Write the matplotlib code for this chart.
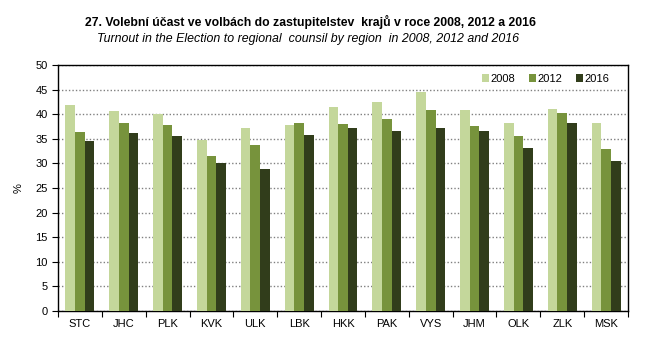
import numpy as np
import matplotlib
matplotlib.use("Agg")
import matplotlib.pyplot as plt
from matplotlib.ticker import MultipleLocator, FixedLocator, NullFormatter

plt.rcParams['font.family'] = ['Liberation Sans', 'DejaVu Sans']

# Turnout by region (%)
regions = ['STC', 'JHC', 'PLK', 'KVK', 'ULK', 'LBK', 'HKK',
           'PAK', 'VYS', 'JHM', 'OLK', 'ZLK', 'MSK']
turnout_2008 = [41.8, 40.6, 40.0, 34.7, 37.1, 37.9, 41.4, 42.4, 44.6, 40.8, 38.3, 41.0, 38.3]
turnout_2012 = [36.3, 38.3, 37.9, 31.5, 33.7, 38.3, 38.1, 39.1, 40.8, 37.5, 35.5, 40.2, 32.9]
turnout_2016 = [34.5, 36.1, 35.5, 30.0, 28.8, 35.7, 37.1, 36.5, 37.1, 36.5, 33.1, 38.3, 30.4]
years = ['2008', '2012', '2016']
colors = ['#c4d79b', '#77933c', '#313d1b']

fig = plt.figure(figsize=(6.5, 3.45), dpi=100)
ax = fig.add_axes([0.0892, 0.0986, 0.877, 0.713])

x = np.arange(len(regions))
w = 0.22
for i, (vals, lab, c) in enumerate(zip([turnout_2008, turnout_2012, turnout_2016], years, colors)):
    ax.bar(x + (i - 1) * w, vals, width=w, color=c, label=lab, zorder=3)

ax.set_xlim(-0.5, len(regions) - 0.5)
ax.set_ylim(0, 50)
ax.yaxis.set_major_locator(MultipleLocator(5))
ax.grid(axis='y', linestyle=(0, (1, 1.5)), color='#808080', linewidth=1.0, zorder=0)

# category labels at centres, tick marks between groups
ax.set_xticks(x)
ax.set_xticklabels(regions, fontsize=8)
ax.tick_params(axis='x', which='major', length=0, pad=6)
ax.xaxis.set_minor_locator(FixedLocator(np.arange(-0.5, len(regions), 1.0)))
ax.xaxis.set_minor_formatter(NullFormatter())
ax.tick_params(axis='x', which='minor', length=4, width=0.8, direction='out')
ax.tick_params(axis='y', labelsize=8, length=4, width=0.8, direction='out')

for s in ax.spines.values():
    s.set_linewidth(1.0)
    s.set_color('black')

ax.set_ylabel('%', fontsize=8, labelpad=8)

leg = ax.legend(loc='upper right', ncol=3, frameon=False, fontsize=8,
                handlelength=0.7, handleheight=0.7, handletextpad=0.1,
                columnspacing=1.2, bbox_to_anchor=(0.985, 1.005))

fig.text(0.478, 0.935, '27. Volební účast ve volbách do zastupitelstev  krajů v roce 2008, 2012 a 2016',
         ha='center', va='center', fontsize=8.8, fontweight='bold')
fig.text(0.474, 0.888, 'Turnout in the Election to regional  counsil by region  in 2008, 2012 and 2016',
         ha='center', va='center', fontsize=8.9, style='italic')

fig.savefig('out.png', dpi=100)
